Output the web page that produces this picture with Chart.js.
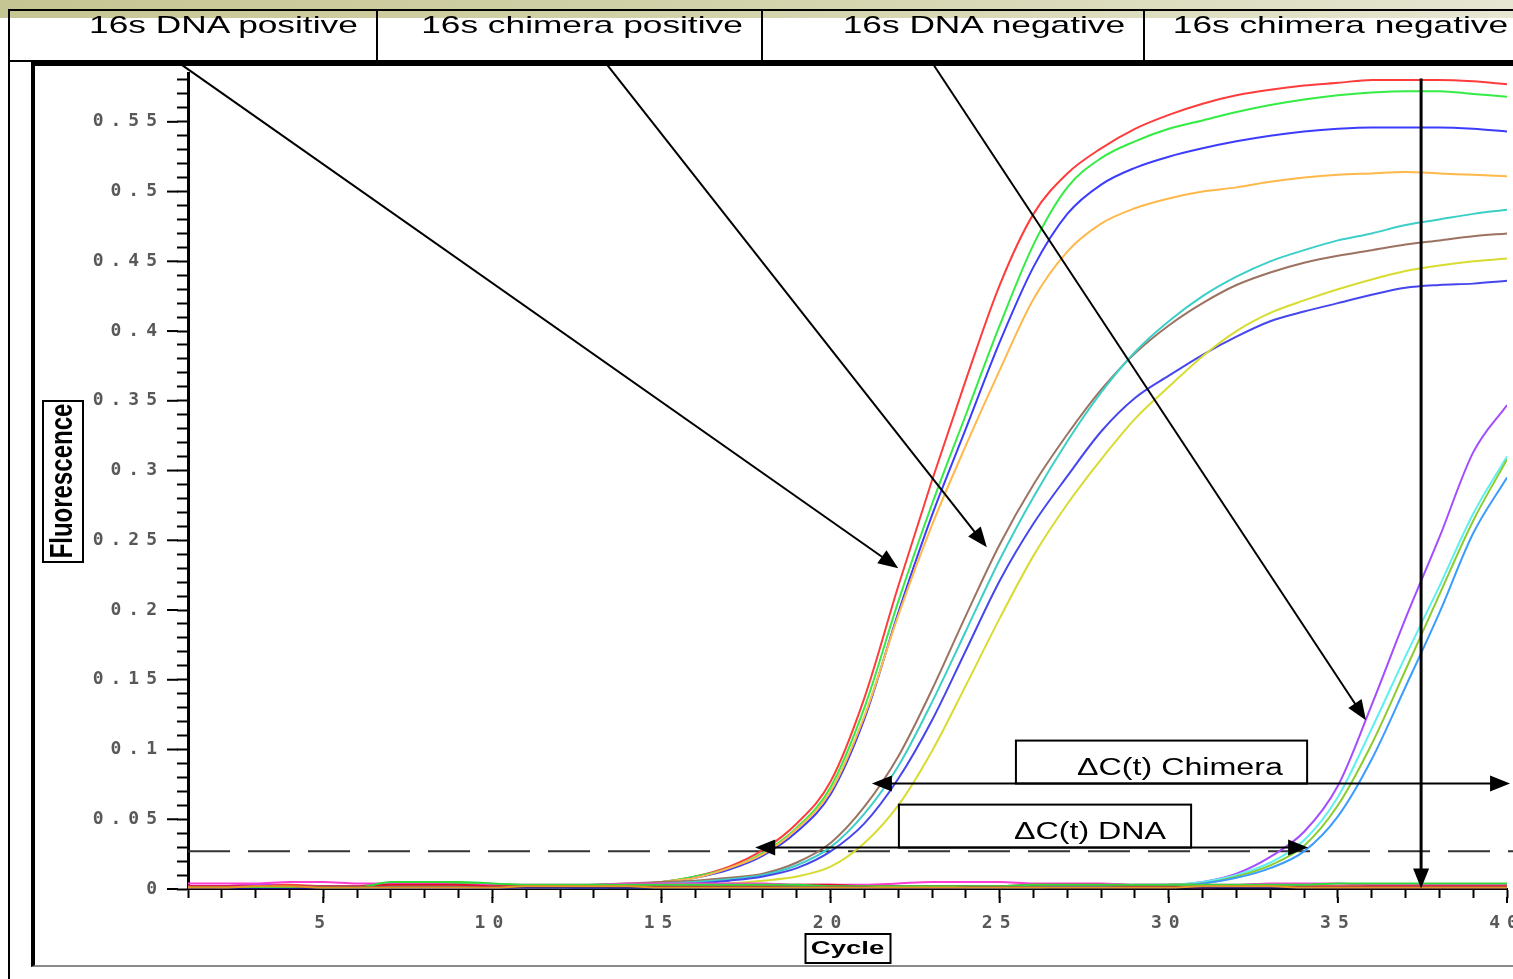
<!DOCTYPE html>
<html>
<head>
<meta charset="utf-8">
<script src="https://cdn.jsdelivr.net/npm/chart.js@4.4.1/dist/chart.umd.min.js"></script>
<style>
html, body { margin: 0; padding: 0; background: #fff; overflow: hidden; }
body { width: 1513px; height: 979px; position: relative; }
#band { position: absolute; left: 0; top: 0; width: 1513px; height: 18px; background: linear-gradient(to right, #c5c593, #d3d3ac 50%, #e6e6d2); }
#leftrule { position: absolute; left: 8px; top: 9px; width: 2px; height: 970px; background: #000; }
#frame { position: absolute; left: 31px; top: 62px; width: 1500px; height: 899px; border-left: 4px solid #000; border-top: 4px solid #000; border-bottom: 2px solid #8a8a8a; }
#chart { position: absolute; left: 0; top: 0; }
#head { position: absolute; left: 9px; top: 9px; height: 53px; width: 1530px; box-sizing: border-box; border-top: 2px solid #000; border-bottom: 2px solid #000; display: flex; }
.cell { position: relative; height: 100%; border-right: 2px solid #000; box-sizing: border-box; }
.cell span { position: absolute; right: 18px; top: 2px; font: 24px/24px "Liberation Sans", Arial, sans-serif; color: #000; white-space: nowrap; transform: scaleX(1.47); transform-origin: right center; }
</style>
</head>
<body>
<div id="band"></div>
<div id="frame"></div>
<div id="leftrule"></div>
<canvas id="chart" width="1513" height="979"></canvas>
<div id="head">
  <div class="cell" style="width:369px"><span>16s DNA positive</span></div>
  <div class="cell" style="width:385px"><span>16s chimera positive</span></div>
  <div class="cell" style="width:382px"><span>16s DNA negative</span></div>
  <div class="cell" style="width:383px"><span>16s chimera negative</span></div>
</div>
<script>
// qPCR amplification curves, fluorescence per cycle
const cycles = [1,2,3,4,5,6,7,8,9,10,11,12,13,14,15,16,17,18,19,20,21,22,23,24,25,26,27,28,29,30,31,32,33,34,35,36,37,38,39,40]

// 16s DNA positive
const dnaPosRed    = [0.002,0.002,0.003,0.003,0.002,0.002,0.002,0.002,0.001,0.001,0.001,0.002,0.002,0.003,0.005,0.009,0.016,0.028,0.047,0.077,0.137,0.217,0.293,0.365,0.433,0.484,0.513,0.531,0.545,0.555,0.563,0.569,0.573,0.576,0.578,0.580,0.580,0.580,0.579,0.577]
const dnaPosGreen  = [0.001,0.001,0.001,0.001,0.002,0.002,0.004,0.004,0.004,0.003,0.002,0.002,0.002,0.003,0.005,0.009,0.015,0.026,0.044,0.073,0.130,0.206,0.276,0.340,0.404,0.462,0.503,0.524,0.536,0.545,0.551,0.557,0.562,0.566,0.569,0.571,0.572,0.572,0.570,0.568]
const dnaPosBlue   = [0.001,0.001,0.001,0.002,0.002,0.001,0.001,0.001,0.002,0.002,0.002,0.001,0.001,0.002,0.004,0.008,0.014,0.024,0.041,0.068,0.122,0.198,0.268,0.330,0.392,0.446,0.484,0.505,0.517,0.525,0.531,0.536,0.540,0.543,0.545,0.546,0.546,0.546,0.545,0.543]
const dnaPosOrange = [0.002,0.002,0.002,0.002,0.001,0.001,0.002,0.002,0.002,0.002,0.001,0.001,0.002,0.003,0.005,0.008,0.015,0.025,0.043,0.070,0.124,0.196,0.261,0.318,0.372,0.423,0.457,0.477,0.488,0.495,0.500,0.503,0.507,0.510,0.512,0.513,0.514,0.513,0.512,0.511]

// 16s chimera positive
const chimPosCyan   = [0.001,0.001,0.001,0.001,0.001,0.002,0.002,0.002,0.002,0.002,0.002,0.002,0.003,0.003,0.004,0.005,0.007,0.010,0.017,0.030,0.054,0.088,0.134,0.185,0.236,0.281,0.321,0.356,0.385,0.407,0.425,0.439,0.450,0.458,0.465,0.470,0.476,0.480,0.484,0.487]
const chimPosBrown  = [0.002,0.002,0.002,0.001,0.001,0.001,0.001,0.002,0.002,0.002,0.002,0.002,0.003,0.004,0.005,0.006,0.008,0.011,0.019,0.033,0.059,0.095,0.143,0.196,0.247,0.290,0.326,0.358,0.384,0.404,0.420,0.433,0.442,0.449,0.454,0.458,0.462,0.465,0.468,0.470]
const chimPosYellow = [0.001,0.001,0.001,0.001,0.001,0.001,0.001,0.001,0.001,0.002,0.002,0.002,0.002,0.002,0.003,0.003,0.004,0.006,0.009,0.016,0.033,0.060,0.099,0.146,0.194,0.239,0.276,0.308,0.337,0.360,0.382,0.400,0.413,0.422,0.430,0.437,0.443,0.447,0.450,0.452]
const chimPosBlue   = [0.000,0.000,0.001,0.001,0.001,0.001,0.001,0.001,0.002,0.002,0.002,0.002,0.002,0.003,0.003,0.004,0.006,0.009,0.015,0.027,0.047,0.079,0.121,0.171,0.221,0.262,0.296,0.328,0.352,0.368,0.383,0.396,0.407,0.414,0.420,0.426,0.431,0.433,0.434,0.436]

// 16s DNA negative
const dnaNegPurple    = [0.002,0.002,0.003,0.002,0.002,0.002,0.002,0.001,0.001,0.002,0.002,0.002,0.002,0.002,0.002,0.002,0.002,0.002,0.002,0.002,0.002,0.002,0.002,0.002,0.002,0.002,0.002,0.002,0.003,0.003,0.005,0.011,0.023,0.041,0.074,0.132,0.194,0.252,0.313,0.347]
const dnaNegCyan      = [0.001,0.001,0.002,0.002,0.002,0.002,0.001,0.001,0.001,0.001,0.002,0.002,0.002,0.002,0.002,0.002,0.002,0.002,0.002,0.002,0.002,0.002,0.002,0.002,0.002,0.002,0.002,0.002,0.002,0.003,0.005,0.010,0.019,0.035,0.066,0.115,0.167,0.217,0.269,0.310]
const dnaNegGreen     = [0.001,0.001,0.001,0.001,0.001,0.001,0.002,0.002,0.002,0.002,0.002,0.002,0.002,0.002,0.002,0.002,0.002,0.002,0.002,0.002,0.002,0.002,0.002,0.002,0.002,0.002,0.002,0.002,0.002,0.003,0.004,0.009,0.017,0.031,0.060,0.104,0.157,0.211,0.264,0.308]
const dnaNegLightBlue = [0.001,0.001,0.001,0.001,0.001,0.001,0.001,0.001,0.001,0.001,0.001,0.001,0.001,0.001,0.001,0.001,0.001,0.001,0.001,0.001,0.001,0.001,0.001,0.001,0.001,0.001,0.002,0.002,0.002,0.002,0.004,0.008,0.015,0.027,0.052,0.093,0.145,0.198,0.255,0.295]

// 16s chimera negative
const chimNegMagenta = [0.004,0.004,0.004,0.005,0.005,0.004,0.004,0.004,0.003,0.003,0.003,0.003,0.003,0.004,0.004,0.004,0.004,0.004,0.003,0.003,0.003,0.004,0.005,0.005,0.005,0.004,0.004,0.004,0.003,0.003,0.003,0.003,0.004,0.004,0.004,0.003,0.003,0.003,0.003,0.003]
const chimNegRed     = [0.002,0.002,0.002,0.002,0.002,0.002,0.003,0.003,0.003,0.002,0.002,0.002,0.002,0.002,0.002,0.002,0.002,0.002,0.003,0.003,0.002,0.002,0.002,0.002,0.002,0.003,0.003,0.003,0.002,0.002,0.001,0.002,0.002,0.002,0.002,0.002,0.002,0.002,0.002,0.002]
const chimNegGreen   = [0.001,0.001,0.001,0.001,0.001,0.001,0.005,0.005,0.005,0.004,0.003,0.003,0.003,0.003,0.003,0.003,0.003,0.003,0.003,0.002,0.002,0.002,0.002,0.002,0.002,0.003,0.003,0.003,0.003,0.003,0.003,0.003,0.003,0.003,0.004,0.004,0.004,0.004,0.004,0.004]
const chimNegNavy    = [0.000,0.000,0.000,0.000,0.001,0.001,0.001,0.001,0.001,0.001,0.001,0.001,0.001,0.001,0.001,0.001,0.001,0.001,0.001,0.001,0.001,0.000,0.000,0.001,0.001,0.001,0.001,0.001,0.001,0.001,0.001,0.001,0.001,0.001,0.001,0.001,0.001,0.001,0.001,0.001]
const chimNegOrange  = [0.001,0.001,0.002,0.002,0.001,0.001,0.001,0.001,0.001,0.001,0.002,0.002,0.002,0.002,0.001,0.001,0.001,0.001,0.001,0.001,0.001,0.001,0.001,0.001,0.001,0.001,0.001,0.001,0.001,0.001,0.002,0.002,0.002,0.001,0.001,0.001,0.001,0.001,0.001,0.001]

const threshold = 0.027

// annotation arrows in chart units: [fromCycle, fromValue, toCycle, toValue]
const pointerArrows = [
  [0.70, 0.5928, 22.0, 0.230],
  [13.33, 0.5928, 24.62, 0.245],
  [23.0, 0.5925, 35.83, 0.121]
]
const markerArrow = [37.46, 0.581, 37.46, 0.0004]

const deltaLabels = ['\u0394C(t) Chimera', '\u0394C(t) DNA']
const deltaFrom   = [21.22, 17.77]
const deltaTo     = [40.09, 34.12]
const deltaLevel  = [0.0756, 0.0297]
const boxFrom     = [25.48, 22.02]
const boxTo       = [34.09, 30.66]
const boxTop      = [0.1064, 0.0605]
const labelAt     = [30.33, 27.67]

const series = [
  [chimNegOrange, '#e89424'], [chimNegNavy, '#14148c'], [chimNegGreen, '#30dc3c'],
  [chimNegRed, '#e0102c'], [chimNegMagenta, '#ff3cd2'],
  [dnaNegLightBlue, '#3a9cff'], [dnaNegGreen, '#8ccc2c'], [dnaNegCyan, '#5ef0f0'], [dnaNegPurple, '#a44cff'],
  [chimPosYellow, '#d8dc30'], [chimPosBlue, '#4646ee'], [chimPosCyan, '#3ccfc8'], [chimPosBrown, '#9c7260'],
  [dnaPosOrange, '#ffb84a'], [dnaPosBlue, '#3c3cff'], [dnaPosGreen, '#34ec44'], [dnaPosRed, '#ff3c3c']
]

function isMajor(v) {
  return Math.abs(Math.round(v * 100) % 5) === 0
}

function arrowHead(ctx, x1, y1, x2, y2) {
  const a = Math.atan2(y2 - y1, x2 - x1)
  const len = 20, half = 8
  ctx.beginPath()
  ctx.moveTo(x2, y2)
  ctx.lineTo(x2 - len * Math.cos(a) + half * Math.sin(a), y2 - len * Math.sin(a) - half * Math.cos(a))
  ctx.lineTo(x2 - len * Math.cos(a) - half * Math.sin(a), y2 - len * Math.sin(a) + half * Math.cos(a))
  ctx.closePath()
  ctx.fill()
}

function line(ctx, x1, y1, x2, y2) {
  ctx.beginPath()
  ctx.moveTo(x1, y1)
  ctx.lineTo(x2, y2)
  ctx.stroke()
}

function wideText(ctx, text, cx, cy, font, sx, rotate) {
  ctx.save()
  ctx.translate(cx, cy)
  ctx.scale(sx, 1)
  if (rotate) ctx.rotate(-Math.PI / 2)
  ctx.font = font
  ctx.textAlign = 'center'
  ctx.textBaseline = 'middle'
  ctx.fillText(text, 0, 0)
  ctx.restore()
}

const decor = {
  id: 'decor',
  beforeDraw(chart) {
    chart.ctx.letterSpacing = '7px'
  },
  beforeDatasetsDraw(chart) {
    const {ctx, chartArea: a, scales: {y}} = chart
    ctx.letterSpacing = '0px'
    const py = y.getPixelForValue(threshold)
    ctx.save()
    ctx.strokeStyle = '#333'
    ctx.lineWidth = 2
    ctx.setLineDash([42, 18])
    line(ctx, a.left, py, chart.width, py)
    ctx.restore()
  },
  afterDraw(chart) {
    const {ctx, chartArea: a, scales: {x, y}} = chart
    ctx.save()
    ctx.letterSpacing = '0px'
    ctx.strokeStyle = '#000'
    ctx.fillStyle = '#000'

    // longer major ticks
    ctx.lineWidth = 2
    y.ticks.forEach(t => {
      if (isMajor(t.value)) {
        const py = y.getPixelForValue(t.value)
        line(ctx, a.left - 21, py, a.left - 10, py)
      }
    })
    x.ticks.forEach(t => {
      if (t.value % 5 === 0) {
        const px = x.getPixelForValue(t.value)
        line(ctx, px, a.bottom + 8, px, a.bottom + 14)
      }
    })

    // pointer arrows from the header labels
    ctx.lineWidth = 2
    pointerArrows.forEach(([c0, v0, c1, v1]) => {
      const x1 = x.getPixelForValue(c0), y1 = y.getPixelForValue(v0)
      const x2 = x.getPixelForValue(c1), y2 = y.getPixelForValue(v1)
      const ang = Math.atan2(y2 - y1, x2 - x1)
      line(ctx, x1, y1, x2 - 6 * Math.cos(ang), y2 - 6 * Math.sin(ang))
      arrowHead(ctx, x1, y1, x2, y2)
    })
    {
      const [c0, v0, c1, v1] = markerArrow
      const x1 = x.getPixelForValue(c0), y1 = y.getPixelForValue(v0)
      const x2 = x.getPixelForValue(c1), y2 = y.getPixelForValue(v1)
      ctx.lineWidth = 3
      line(ctx, x1, y1, x2, y2 - 8)
      arrowHead(ctx, x1, y1, x2, y2)
    }

    // delta Ct spans with label boxes
    deltaLabels.forEach((label, i) => {
      const py = y.getPixelForValue(deltaLevel[i])
      const xl = x.getPixelForValue(deltaFrom[i]), xr = x.getPixelForValue(deltaTo[i])
      const bl = x.getPixelForValue(boxFrom[i]), br = x.getPixelForValue(boxTo[i])
      const bt = y.getPixelForValue(boxTop[i])
      ctx.lineWidth = 2
      ctx.strokeRect(bl, bt, br - bl, py - bt)
      line(ctx, xl + 10, py, xr - 10, py)
      arrowHead(ctx, xr, py, xl, py)
      arrowHead(ctx, xl, py, xr, py)
      ctx.save()
      ctx.translate(x.getPixelForValue(labelAt[i]), py - 9)
      ctx.scale(1.4, 1)
      ctx.font = '23px "Liberation Sans", Arial, sans-serif'
      ctx.textAlign = 'center'
      ctx.textBaseline = 'alphabetic'
      ctx.fillText(label, 0, 0)
      ctx.restore()
    })

    // boxed axis titles
    const ymid = (a.top + a.bottom) / 2
    ctx.lineWidth = 2
    ctx.strokeRect(43, ymid - 80, 40, 161)
    wideText(ctx, 'Fluorescence', 63, ymid, 'bold 24px "Liberation Sans", Arial, sans-serif', 1.3, true)
    const xmid = (a.left + a.right) / 2
    ctx.strokeRect(xmid - 42, 934, 85, 29)
    wideText(ctx, 'Cycle', xmid, 949, 'bold 19px "Liberation Sans", Arial, sans-serif', 1.45, false)
    ctx.restore()
  }
}

const tickFont = { family: '"DejaVu Sans Mono", monospace', size: 18, weight: 'bold' }

new Chart(document.getElementById('chart'), {
  type: 'line',
  data: {
    datasets: series.map(([values, color]) => ({
      data: values.map((v, i) => ({x: cycles[i], y: v})),
      borderColor: color,
      borderWidth: 2,
      pointRadius: 0,
      cubicInterpolationMode: 'monotone',
      fill: false
    }))
  },
  options: {
    responsive: false,
    animation: false,
    devicePixelRatio: 1,
    layout: { padding: { left: 34, top: 73, right: 6, bottom: 0 }, autoPadding: false },
    plugins: { legend: { display: false }, tooltip: { enabled: false } },
    scales: {
      x: {
        type: 'linear',
        min: 1,
        max: 40,
        afterFit(s) { s.height = 90; s.paddingLeft = 0; s.paddingRight = 0 },
        border: { display: true, color: '#000', width: 2 },
        grid: { drawOnChartArea: false, tickLength: 9, tickColor: '#000', tickWidth: 2 },
        ticks: {
          stepSize: 1, autoSkip: false, maxRotation: 0, padding: 15,
          color: '#585858', font: tickFont,
          callback: v => (v % 5 === 0 ? String(v) : '')
        }
      },
      y: {
        min: 0,
        max: 0.585,
        afterFit(s) { s.width = 154; s.paddingTop = 0; s.paddingBottom = 0 },
        border: { display: true, color: '#000', width: 3 },
        grid: { drawOnChartArea: false, tickLength: 11, tickColor: '#000', tickWidth: 2 },
        ticks: {
          stepSize: 0.01, autoSkip: false, includeBounds: false, padding: 13,
          color: '#585858', font: tickFont,
          callback: v => (isMajor(v) ? String(Math.round(v * 100) / 100) : '')
        }
      }
    }
  },
  plugins: [decor]
})
</script>
</body>
</html>
